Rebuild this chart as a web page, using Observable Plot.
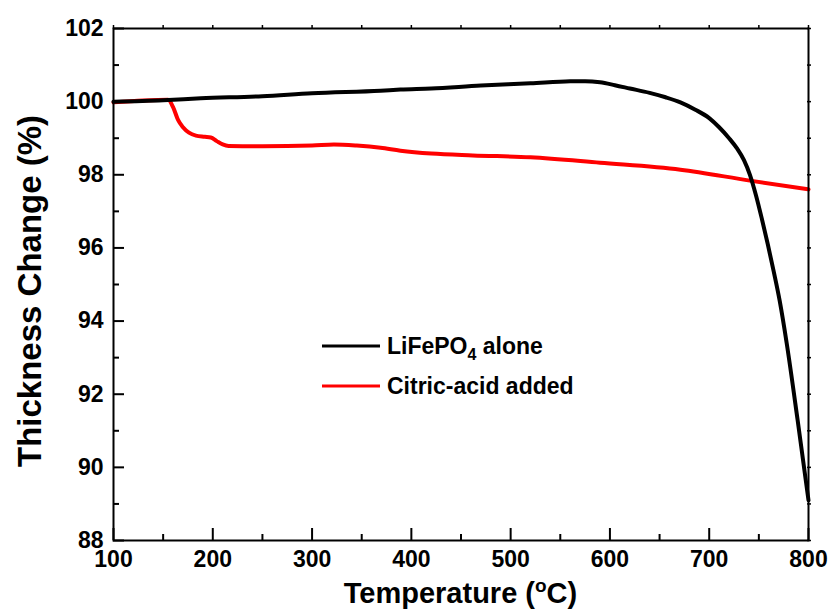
<!DOCTYPE html>
<html>
<head>
<meta charset="utf-8">
<script src="https://cdn.jsdelivr.net/npm/d3@7"></script>
<script src="https://cdn.jsdelivr.net/npm/@observablehq/plot@0.6"></script>
<style>
  html, body { margin: 0; padding: 0; background: #fff; }
  #chart svg { display: block; }
</style>
</head>
<body>
<div id="chart"></div>
<script>
// ---- data ----
const blackT = [100,150,188,250,300,369,389,420,470,520,560,575,590,605,620,640,656,671,686,700,710,720,728,735,741,747,753,759,765,771,778,789,800];
const blackV = [100.0,100.04,100.09,100.15,100.23,100.3,100.33,100.36,100.44,100.5,100.555,100.56,100.53,100.45,100.36,100.24,100.12,99.98,99.78,99.55,99.3,99.0,98.72,98.4,98.0,97.45,96.8,96.1,95.35,94.55,93.4,91.3,89.1];
const redT = [100,130,155,160,165,170,176,183,192,198,204,210,216,250,300,322,345,369,389,420,462,520,590,671,741,800];
const redV = [99.98,100.03,100.05,99.85,99.5,99.3,99.15,99.07,99.04,99.02,98.92,98.83,98.79,98.78,98.8,98.83,98.8,98.74,98.66,98.58,98.53,98.48,98.33,98.14,97.84,97.6];
const seriesNames = ["LiFePO4 alone", "Citric-acid added"];
const xTicks = [100,200,300,400,500,600,700,800];
const xMinor = [150,250,350,450,550,650,750];
const yTicks = [88,90,92,94,96,98,100,102];
const yMinor = [89,91,93,95,97,99,101];
const xEdge = [100,150,200,250,300,350,400,450,500,550,600,650,700,750,800];
const yEdge = [88,89,90,91,92,93,94,95,96,97,98,99,100,101,102];

const black = blackT.map((t, i) => ({t, v: blackV[i]}));
const red = redT.map((t, i) => ({t, v: redV[i]}));

const W = 831, H = 615, mL = 113, mR = 23, mT = 28, mB = 75;
const pw = W - mL - mR, ph = H - mT - mB;
const font = "'Liberation Sans', Arial, Helvetica, sans-serif";

const chart = Plot.plot({
  width: W, height: H,
  marginLeft: mL, marginRight: mR, marginTop: mT, marginBottom: mB,
  style: {fontFamily: font, fontWeight: "bold", color: "black", background: "white"},
  x: {domain: [100, 800]},
  y: {domain: [88, 102]},
  marks: [
    Plot.line(red, {x: "t", y: "v", stroke: "#ff0000", strokeWidth: 4, curve: "monotone-x"}),
    Plot.line(black, {x: "t", y: "v", stroke: "black", strokeWidth: 4, curve: "monotone-x"}),
    Plot.frame({stroke: "black", strokeWidth: 2}),
    // inward major/minor ticks
    Plot.tickX(xTicks, {x: d => d, insetTop: ph - 12, stroke: "black", strokeWidth: 2}),
    Plot.tickX(xMinor, {x: d => d, insetTop: ph - 6, stroke: "black", strokeWidth: 2}),
    Plot.tickY(yTicks, {y: d => d, insetRight: pw - 11, stroke: "black", strokeWidth: 2}),
    Plot.tickY(yMinor, {y: d => d, insetRight: pw - 6, stroke: "black", strokeWidth: 2}),
    // small ticks on top and right edges
    Plot.tickX(xEdge, {x: d => d, insetTop: -3, insetBottom: ph - 1, stroke: "black", strokeWidth: 1.5}),
    Plot.tickY(yEdge, {y: d => d, insetRight: -3, insetLeft: pw - 1, stroke: "black", strokeWidth: 1.5}),
    Plot.axisX(xTicks, {tickSize: 0, tickPadding: 10, fontSize: 23, fontWeight: "bold", label: null}),
    Plot.axisY(yTicks, {tickSize: 0, tickPadding: 10, fontSize: 23, fontWeight: "bold", label: null})
  ]
});

const svg = d3.select(chart);
svg.selectAll("text").attr("fill", "black");

// x axis title
const xt = svg.append("text")
  .attr("x", (mL + W - mR) / 2).attr("y", 603)
  .attr("text-anchor", "middle")
  .attr("font-family", font).attr("font-weight", "bold").attr("font-size", 29)
  .attr("fill", "black");
xt.append("tspan").text("Temperature (");
xt.append("tspan").attr("font-size", 19).attr("dy", -11).text("o");
xt.append("tspan").attr("dy", 11).text("C)");

// y axis title
svg.append("text")
  .attr("transform", `translate(41,${(mT + H - mB) / 2 + 7}) rotate(-90)`)
  .attr("text-anchor", "middle")
  .attr("font-family", font).attr("font-weight", "bold").attr("font-size", 33)
  .attr("fill", "black")
  .text("Thickness Change (%)");

// legend
const leg = svg.append("g").attr("font-family", font).attr("font-weight", "bold")
  .attr("font-size", 23).attr("text-anchor", "start");
const colors = ["black", "#ff0000"];
const ly = [346, 386];
seriesNames.forEach((name, i) => {
  leg.append("line").attr("x1", 322).attr("x2", 380).attr("y1", ly[i]).attr("y2", ly[i])
    .attr("stroke", colors[i]).attr("stroke-width", 3);
  const t = leg.append("text").attr("x", 387).attr("y", ly[i] + 8)
    .attr("text-anchor", "start").attr("fill", "black");
  if (i === 0) {
    t.append("tspan").text("LiFePO");
    t.append("tspan").attr("font-size", 16).attr("dy", 6).text("4");
    t.append("tspan").attr("dy", -6).text(" alone");
  } else {
    t.text(name);
  }
});

document.getElementById("chart").appendChild(chart);
</script>
</body>
</html>
